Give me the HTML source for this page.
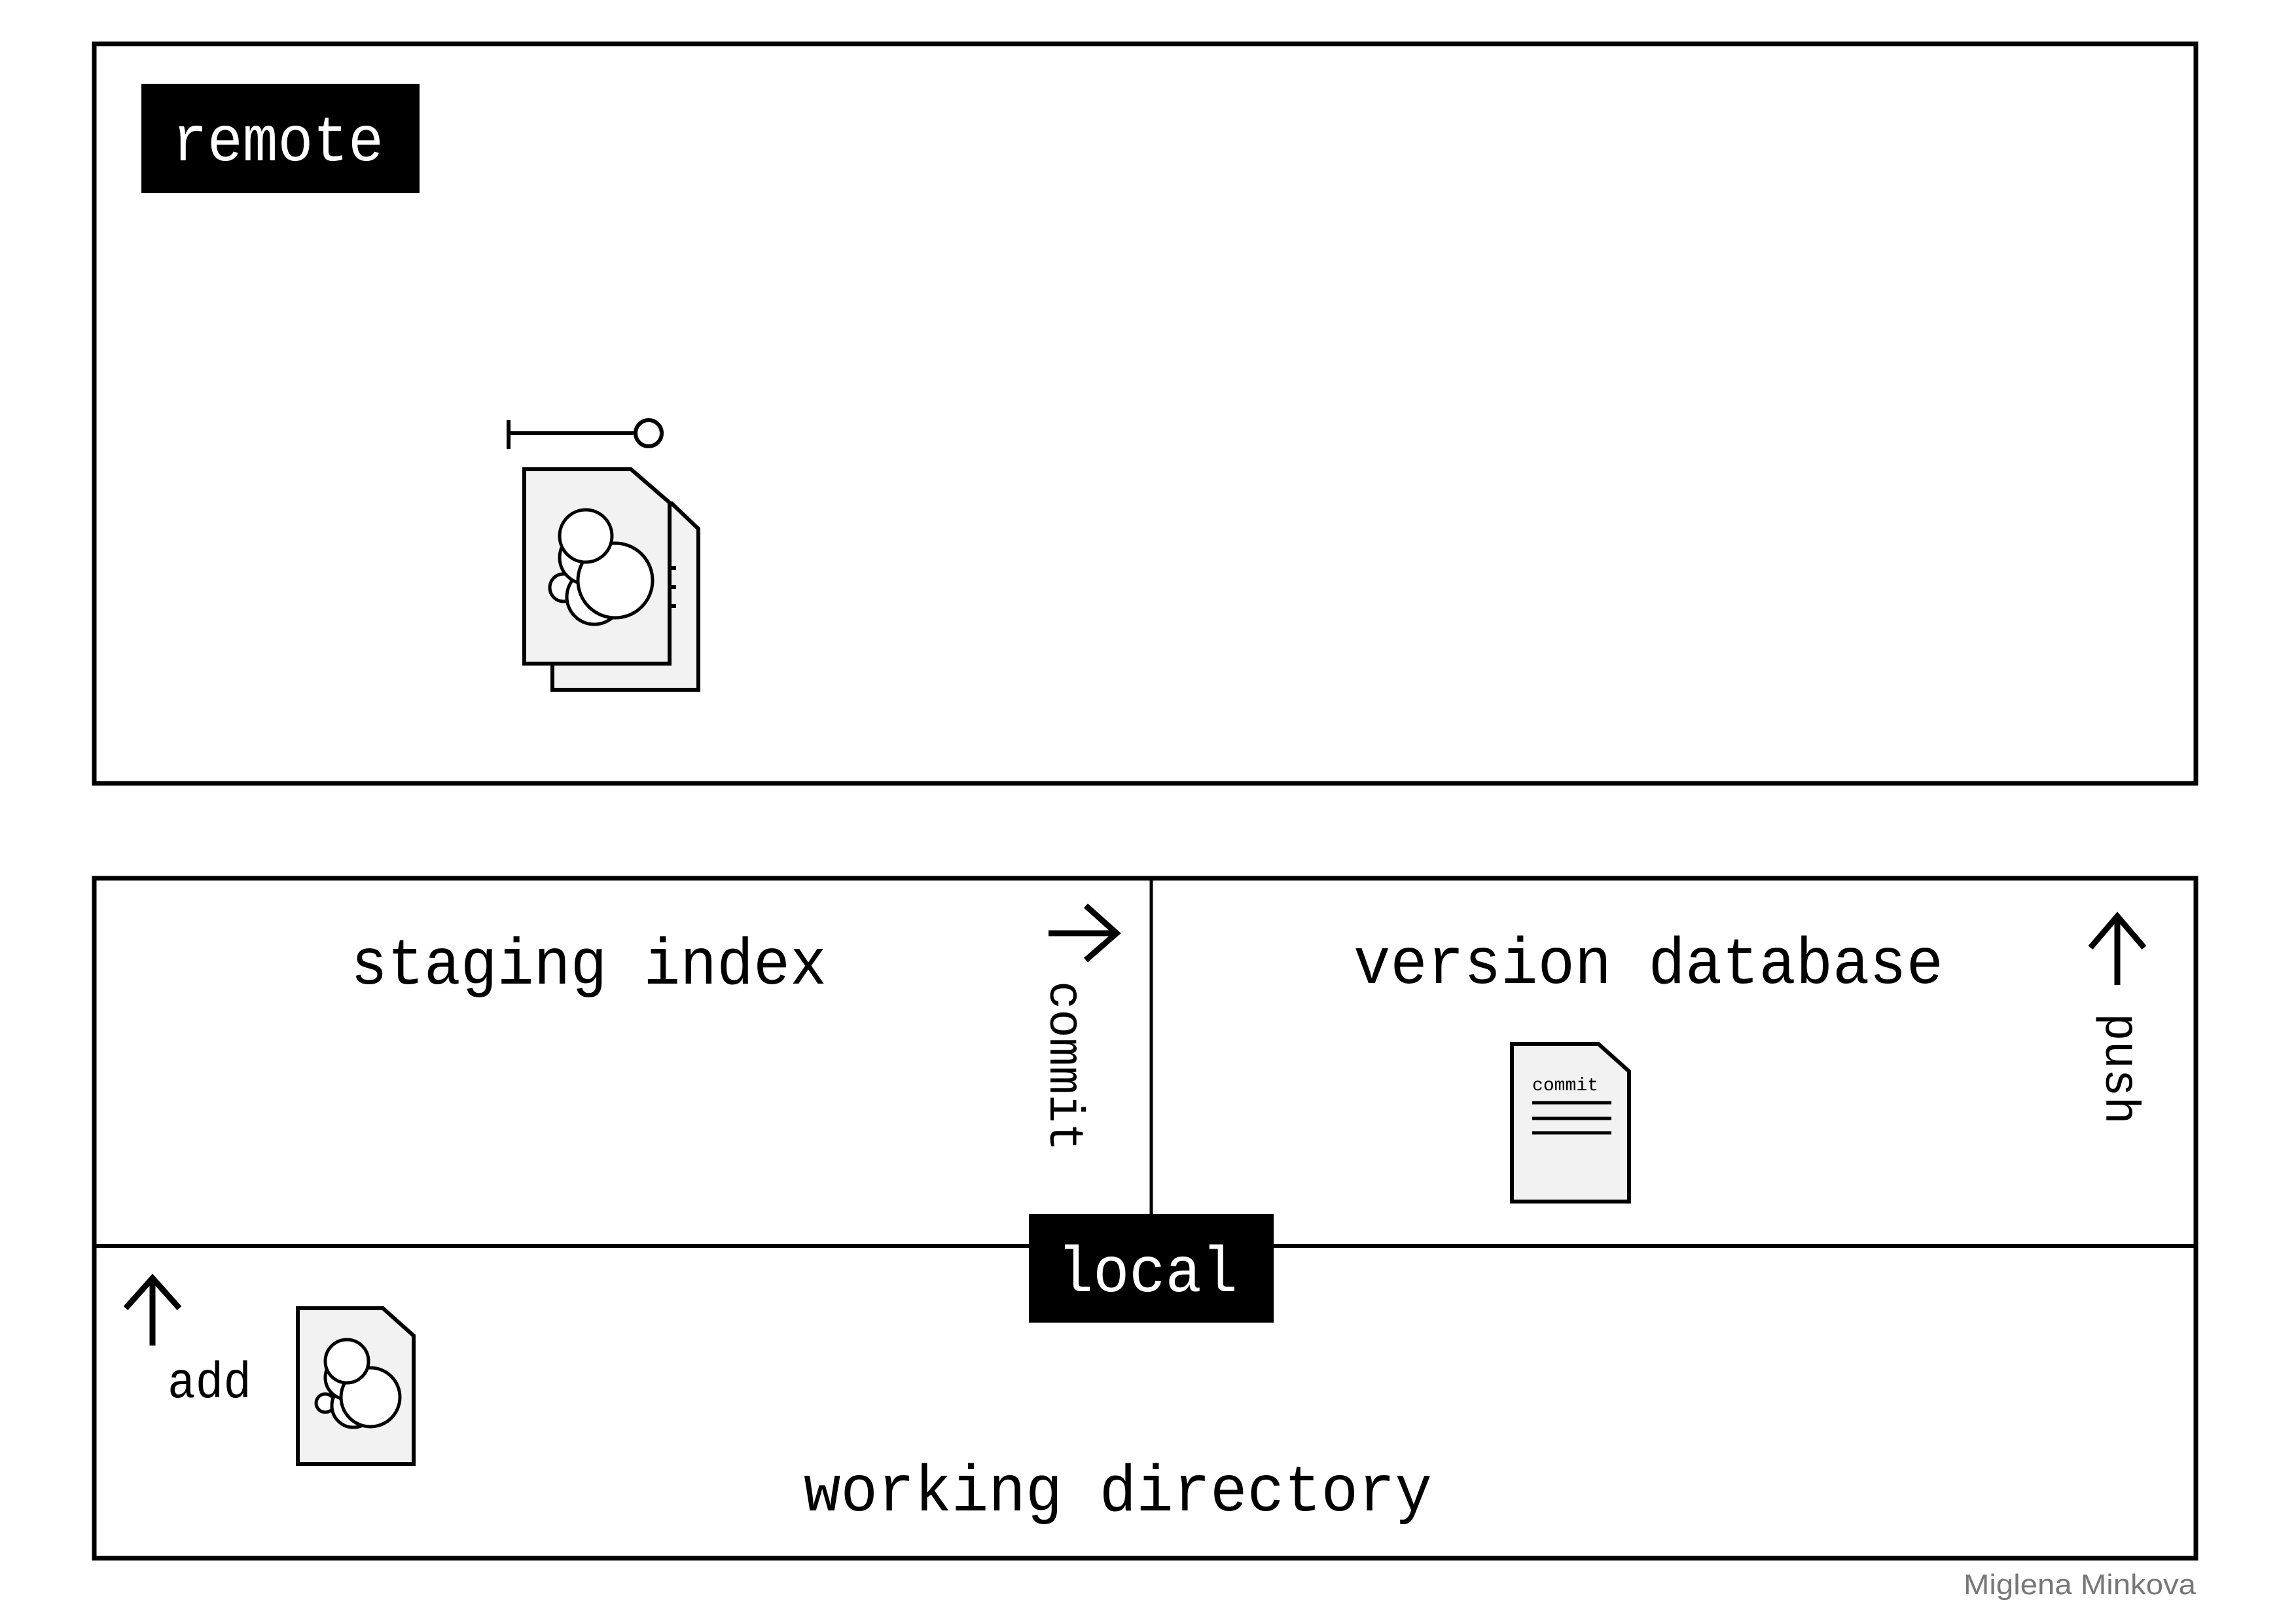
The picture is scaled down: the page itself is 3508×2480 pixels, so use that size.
<!DOCTYPE html>
<html><head><meta charset="utf-8"><style>
html,body{margin:0;padding:0;background:#fff;}
svg{display:block;}
text{font-family:"Liberation Mono",monospace;}
</style></head><body>
<svg width="3508" height="2480" viewBox="0 0 3508 2480" xmlns="http://www.w3.org/2000/svg">
<rect width="3508" height="2480" fill="#fff"/>
<!-- remote box -->
<rect x="144" y="67" width="3211" height="1130" fill="none" stroke="#000" stroke-width="7"/>
<rect x="216" y="128" width="425" height="167" fill="#000"/>
<text x="263" y="245" font-size="98" fill="#fff" textLength="323" lengthAdjust="spacingAndGlyphs">remote</text>
<!-- key -->
<g stroke="#000" stroke-width="6" fill="none">
<line x1="777" y1="642" x2="777" y2="686"/>
<line x1="777" y1="662" x2="970" y2="662"/>
<circle cx="991" cy="662" r="20" fill="#fff"/>
</g>
<!-- stacked docs -->
<g stroke="#000" stroke-width="6" stroke-linejoin="miter">
<path d="M1025 768 L1067 808 L1067 1054 L844 1054 L844 1014" fill="#f2f2f2"/>
<path d="M801 717 L964 717 L1023 768 L1023 1014 L801 1014 Z" fill="#f2f2f2"/>
<line x1="1023" y1="868" x2="1033" y2="868"/><line x1="1023" y1="897" x2="1033" y2="897"/><line x1="1023" y1="926" x2="1033" y2="926"/>
<circle cx="861" cy="898" r="21" fill="#fff" stroke-width="5"/>
<circle cx="908" cy="912" r="42" fill="#fff" stroke-width="5"/>
<circle cx="895" cy="852" r="40" fill="#fff" stroke-width="5"/>
<circle cx="940" cy="887" r="57" fill="#fff" stroke-width="5"/>
<circle cx="895" cy="819" r="40" fill="#fff" stroke-width="5"/>
</g>
<!-- local box -->
<rect x="144" y="1342" width="3211" height="1039" fill="none" stroke="#000" stroke-width="7"/>
<line x1="144" y1="1904" x2="3355" y2="1904" stroke="#000" stroke-width="6"/>
<line x1="1759" y1="1343" x2="1759" y2="1860" stroke="#000" stroke-width="5"/>
<rect x="1572" y="1855" width="374" height="166" fill="#000"/>
<text x="1615" y="1973" font-size="98" fill="#fff" textLength="276" lengthAdjust="spacingAndGlyphs">local</text>
<text x="536" y="1503" font-size="100" textLength="727" lengthAdjust="spacingAndGlyphs">staging index</text>
<text x="2068" y="1502" font-size="100" textLength="901" lengthAdjust="spacingAndGlyphs">version database</text>
<text x="1228" y="2308" font-size="100" textLength="960" lengthAdjust="spacingAndGlyphs">working directory</text>
<text x="256" y="2135" font-size="78" textLength="128" lengthAdjust="spacingAndGlyphs">add</text>
<!-- arrows -->
<g stroke="#000" stroke-width="9" fill="none" stroke-linecap="butt">
<line x1="233" y1="2056" x2="233" y2="1956"/><polyline points="192,1999 233,1953 274,1999"/>
<line x1="1602" y1="1426" x2="1704" y2="1426"/><polyline points="1659,1384 1706,1426 1659,1467"/>
<line x1="3235" y1="1505" x2="3235" y2="1402"/><polyline points="3194,1448 3235,1400 3276,1448"/>
</g>
<text transform="translate(1605,1499) rotate(90)" font-size="74" textLength="260" lengthAdjust="spacingAndGlyphs">commit</text>
<text transform="translate(3218,1548) rotate(90)" font-size="74" textLength="170" lengthAdjust="spacingAndGlyphs">push</text>
<!-- add doc -->
<g stroke="#000" stroke-width="6">
<path d="M455 1999 L585 1999 L632 2041 L632 2237 L455 2237 Z" fill="#f2f2f2"/>
<circle cx="497" cy="2144" r="14" fill="#fff" stroke-width="5"/>
<circle cx="540" cy="2148" r="33" fill="#fff" stroke-width="5"/>
<circle cx="530" cy="2105" r="33" fill="#fff" stroke-width="5"/>
<circle cx="566" cy="2135" r="45" fill="#fff" stroke-width="5"/>
<circle cx="530" cy="2080" r="33" fill="#fff" stroke-width="5"/>
</g>
<!-- commit doc -->
<path d="M2310 1595 L2442 1595 L2489 1637 L2489 1836 L2310 1836 Z" fill="#f2f2f2" stroke="#000" stroke-width="6"/>
<text x="2341" y="1666" font-size="28" textLength="101" lengthAdjust="spacingAndGlyphs">commit</text>
<g stroke="#000" stroke-width="5"><line x1="2341" y1="1685" x2="2462" y2="1685"/><line x1="2341" y1="1709" x2="2462" y2="1709"/><line x1="2341" y1="1731" x2="2462" y2="1731"/></g>
<text x="3355" y="2436" font-size="44" fill="#777" text-anchor="end" style="font-family:'Liberation Sans',sans-serif" textLength="355" lengthAdjust="spacingAndGlyphs">Miglena Minkova</text>
</svg>
</body></html>
